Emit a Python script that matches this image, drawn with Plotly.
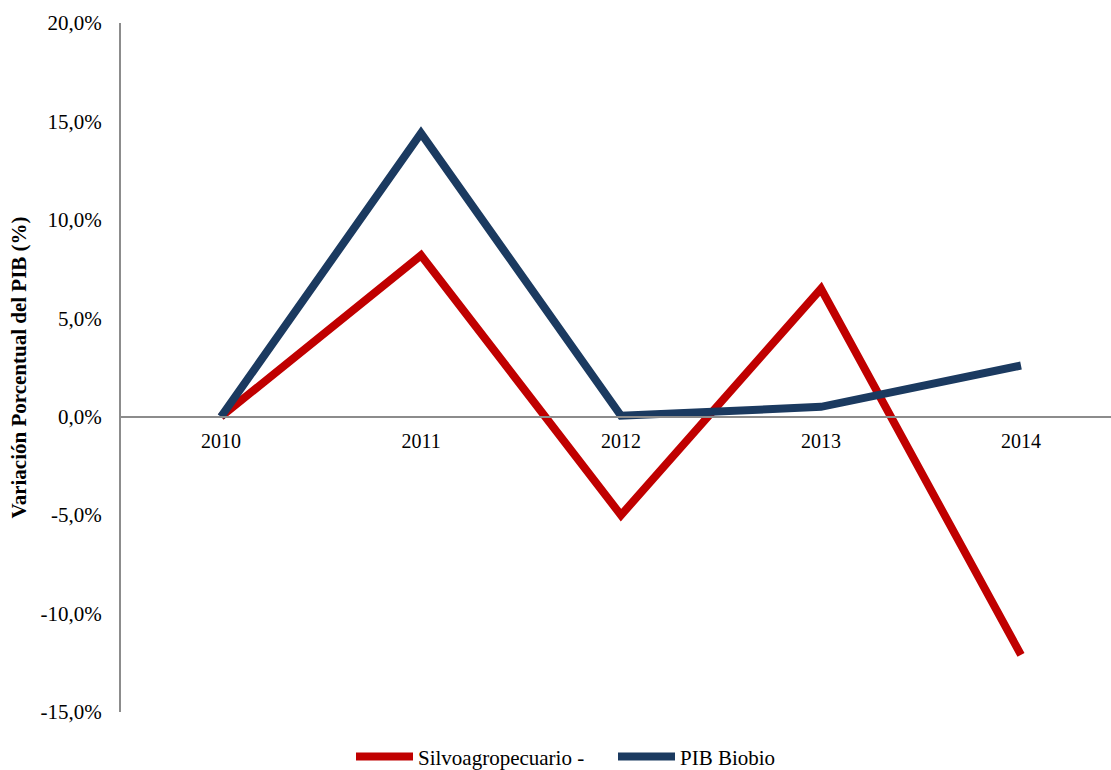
import plotly.graph_objects as go

years = ["2010", "2011", "2012", "2013", "2014"]
silvo = [0.0, 8.2, -5.0, 6.5, -12.1]
pib_biobio = [0.0, 14.4, 0.05, 0.5, 2.6]
y_ticks = [20, 15, 10, 5, 0, -5, -10, -15]
y_tick_text = ["20,0%", "15,0%", "10,0%", "5,0%", "0,0%", "-5,0%", "-10,0%", "-15,0%"]

font_family = "Liberation Serif, Times New Roman, serif"
ymin, ymax = -15, 20

fig = go.Figure()
fig.add_trace(go.Scatter(x=years, y=silvo, mode="lines", name="Silvoagropecuario -",
                         line=dict(color="#C00000", width=8)))
fig.add_trace(go.Scatter(x=years, y=pib_biobio, mode="lines", name="PIB Biobio",
                         line=dict(color="#1B3A60", width=8)))

fig.update_layout(
    width=1111, height=770,
    margin=dict(l=121, r=0, t=23, b=58, autoexpand=False),
    paper_bgcolor="white", plot_bgcolor="white",
    font=dict(family=font_family, size=20, color="black"),
    showlegend=True,
    legend=dict(orientation="h", x=(351 - 121) / 990, xanchor="left", y=-0.065, yanchor="middle",
                font=dict(family=font_family, size=21, color="black"),
                itemwidth=57, entrywidth=190, entrywidthmode="pixels", traceorder="normal"),
    xaxis=dict(type="category", range=[-0.5, 4.45], showgrid=False, zeroline=False,
               showline=True, linecolor="#8C8C8C", linewidth=2, ticks="",
               anchor="free", position=(0 - ymin) / (ymax - ymin), automargin=False,
               ticklabelstandoff=6,
               tickfont=dict(family=font_family, size=20, color="black")),
    yaxis=dict(range=[ymin, ymax], tickvals=y_ticks, ticktext=y_tick_text,
               showgrid=False, zeroline=False, showline=True, linecolor="#8C8C8C",
               linewidth=2, ticks="", automargin=False,
               tickfont=dict(family=font_family, size=21, color="black"),
               ticklabelstandoff=13,
               title=dict(text="<b>Variación Porcentual del PIB (%)</b>",
                          font=dict(family=font_family, size=21, color="black"),
                          standoff=8)),
)

fig.write_html("out.html", config={"displayModeBar": False},
               post_script="document.body.style.margin='0px';")
